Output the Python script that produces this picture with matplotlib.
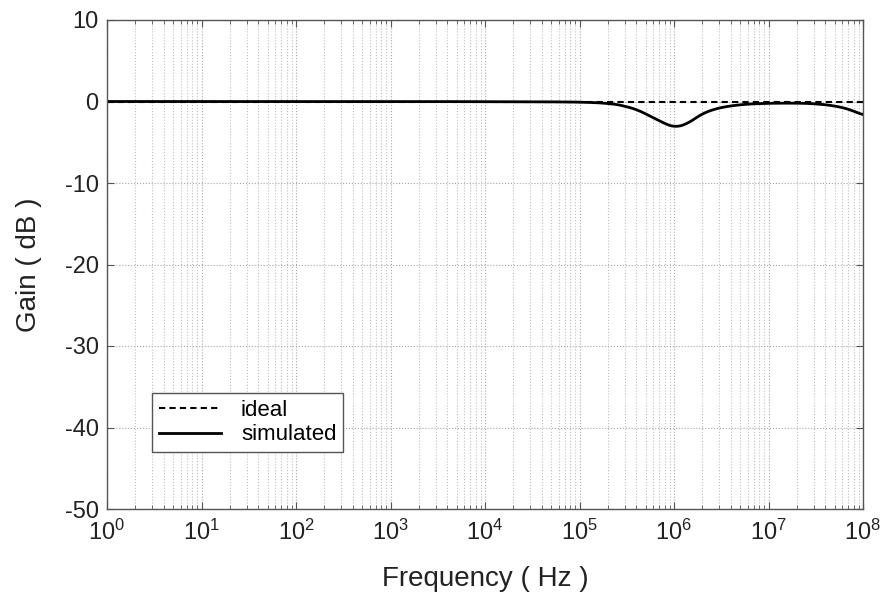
import numpy as np
import matplotlib
matplotlib.use("Agg")
import matplotlib.pyplot as plt
from matplotlib.ticker import LogLocator, NullFormatter

plt.rcParams['font.family'] = ['Liberation Sans', 'DejaVu Sans']
plt.rcParams['axes.unicode_minus'] = False
plt.rcParams['mathtext.fontset'] = 'custom'
plt.rcParams['mathtext.rm'] = 'Liberation Sans'

# data
ideal_logf = [0, 8]
ideal_gain = [0, 0]
sim_logf = [0, 1, 2, 3, 4, 4.8, 5.0, 5.2, 5.4, 5.6, 5.75, 5.9, 6.01, 6.15, 6.28, 6.42, 6.56, 6.7, 6.8, 7.0, 7.2, 7.4, 7.51, 7.65, 7.79, 7.9, 8.0]
sim_gain = [0, 0, 0, 0, -0.02, -0.05, -0.08, -0.15, -0.35, -0.95, -1.8, -2.7, -3.2, -2.7, -1.6, -0.95, -0.6, -0.4, -0.3, -0.22, -0.2, -0.22, -0.3, -0.45, -0.75, -1.15, -1.7]

fig = plt.figure(figsize=(8.86, 5.93), dpi=100)
ax = fig.add_axes([107/886, 1 - 509/593, (863-107)/886, (509-20)/593])

f_ideal = 10.0 ** np.array(ideal_logf)
lf = np.linspace(0, 8, 1600)
g_sim = np.interp(lf, sim_logf, sim_gain)
k = np.ones(31) / 31
g_pad = np.pad(g_sim, 15, mode='edge')
g_s = np.convolve(g_pad, k, mode='valid')

ax.plot(f_ideal, ideal_gain, color='black', linestyle=(0, (3, 2)), linewidth=1.5, label='ideal')
ax.plot(10.0 ** lf, g_s, color='black', linewidth=2.0, label='simulated')

ax.set_xscale('log')
ax.set_xlim(1, 1e8)
ax.set_ylim(-50, 10)
ax.set_yticks([-50, -40, -30, -20, -10, 0, 10])
ax.xaxis.set_major_locator(LogLocator(base=10, numticks=20))
ax.xaxis.set_minor_locator(LogLocator(base=10, subs=np.arange(2, 10), numticks=100))
ax.xaxis.set_minor_formatter(NullFormatter())

ax.grid(True, which='major', axis='both', color='#a8a8a8', linestyle=':', linewidth=0.8)
ax.grid(True, which='minor', axis='x', color='#c0c0c0', linestyle=':', linewidth=0.8)
ax.tick_params(which='both', direction='in', top=True, right=True, labelsize=17, color='#555555', labelcolor='#222222')
ax.tick_params(which='major', length=5)
ax.tick_params(which='minor', length=3)
ax.tick_params(axis='x', pad=8)
ax.tick_params(axis='y', pad=6)
for s in ax.spines.values():
    s.set_color('#555555')
    s.set_linewidth(1.0)

ax.set_xlabel('Frequency ( Hz )', fontsize=20, color='#222222', labelpad=15)
ax.set_ylabel('Gain ( dB )', fontsize=20, color='#222222', labelpad=16)

leg = ax.legend(loc='lower left', bbox_to_anchor=(45/756, 57/489), fontsize=16,
                fancybox=False, framealpha=1, edgecolor='#555555', handlelength=2.8,
                borderpad=0.3, labelspacing=0.15, borderaxespad=0, handletextpad=0.9)
leg.get_frame().set_linewidth(1.0)

fig.savefig('out.png', dpi=100)
